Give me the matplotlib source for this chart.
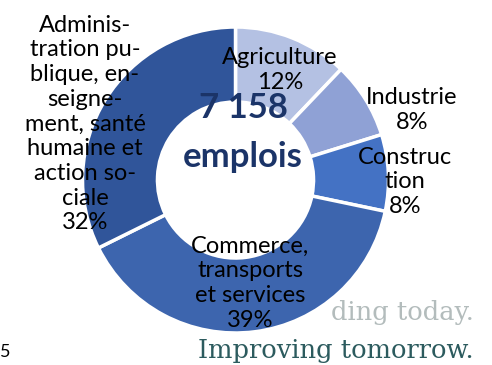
import matplotlib.pyplot as plt

# Emploi par secteur
secteurs = [
    "Agriculture",
    "Industrie",
    "Construction",
    "Commerce, transports et services",
    "Administration publique, enseignement, santé humaine et action sociale",
]
parts = [12, 8, 8, 39, 32]
etiquettes = [
    "Agriculture\n12%",
    "Industrie\n8%",
    "Construc\ntion\n8%",
    "Commerce,\ntransports\net services\n39%",
    "Adminis-\ntration pu-\nblique, en-\nseigne-\nment, santé\nhumaine et\naction so-\nciale\n32%",
]
couleurs = ["#b4c1e3", "#8fa1d5", "#4472c4", "#3d65ae", "#30559a"]
total_emplois = "7 158"

W, H = 492, 365
plt.rcParams['font.family'] = ['Lato', 'DejaVu Sans']

fig = plt.figure(figsize=(W / 100, H / 100), dpi=100)
ax = fig.add_axes([0, 0, 1, 1])

# logo en fond, partiellement masqué par l'anneau
ax.text(474, H - 320, "ding today.", ha='right', va='baseline', fontsize=18.5,
        family='DejaVu Serif', color='#b3bcbc', zorder=0)
ax.text(474, H - 358, "Improving tomorrow.", ha='right', va='baseline', fontsize=18.5,
        family='DejaVu Serif', color='#2c5b5e', zorder=0)
ax.text(0, H - 352, "5", ha='left', va='center', fontsize=13, color='black')

ax.pie(parts, colors=couleurs, startangle=90, counterclock=False,
       center=(235.5, H - 180), radius=153, frame=True,
       wedgeprops=dict(width=153 * 0.49, edgecolor='white', linewidth=2.5))

# étiquettes des secteurs
pos = [(280, 70), (412, 110), (405, 182), (250, 283), (85, 124)]
for (x, y), txt in zip(pos, etiquettes):
    ax.text(x, H - y, txt, ha='center', va='center', fontsize=17,
            color='black', linespacing=1.22, zorder=5)

ax.text(243, H - 108, total_emplois, ha='center', va='center', fontsize=25,
        fontweight='bold', color='#1b3468', zorder=5)
ax.text(243, H - 157, "emplois", ha='center', va='center', fontsize=25,
        fontweight='bold', color='#1b3468', zorder=5)

ax.set_xlim(0, W)
ax.set_ylim(0, H)
ax.set_aspect('equal')
ax.axis('off')

fig.savefig("out.png", dpi=100)
